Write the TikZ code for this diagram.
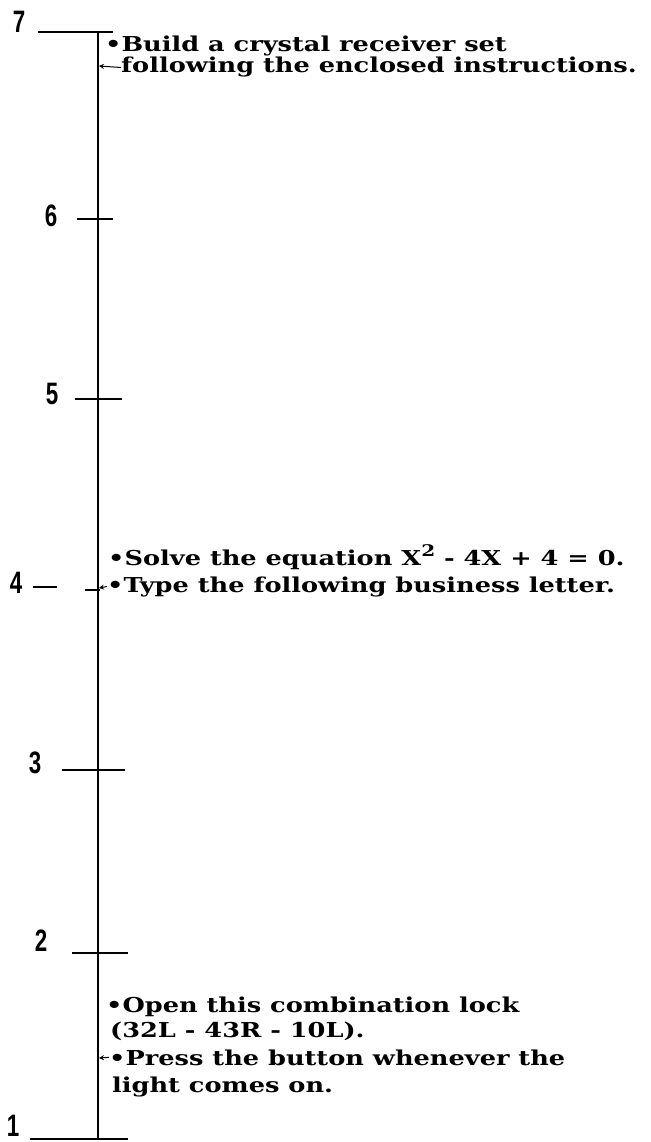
\documentclass[tikz,border=0pt]{standalone}
\usepackage{fontspec}
\setmainfont{DejaVu Serif}
\newfontfamily\numfont{Liberation Sans}[FakeStretch=0.72]
\newfontfamily\taskfont{DejaVu Serif}[FakeStretch=1.25]
\usetikzlibrary{positioning, arrows.meta}

\begin{document}
\begin{tikzpicture}[x=1pt, y=-1pt,
    axisline/.style={line width=1.8pt},
    tickline/.style={line width=1.4pt},
    scalelabel/.style={font=\numfont\bfseries\fontsize{31}{31}\selectfont, anchor=center, inner sep=0pt},
    item/.style={font=\taskfont\bfseries\fontsize{20.5}{26}\selectfont, anchor=base west, inner sep=0pt},
    pointer/.style={-{Stealth[length=5pt, width=5pt]}, line width=1pt}
]
\useasboundingbox (0,0) rectangle (650,1142);

% Vertical scale
\coordinate (top) at (98,32);
\coordinate (bottom) at (98,1139);
\draw[axisline] (top) -- (bottom);

% Ticks and their numbers
\foreach \n/\y/\l/\r/\lx/\ly in {7/32/38/113/19/22, 6/219/77/113/51/216, 5/399/75/122/52/394,
                                  3/770/62/125/35/763, 2/953/72/128/41/941, 1/1139/30/128/13/1126} {
    \draw[tickline] (\l,\y) -- (\r,\y);
    \node[scalelabel] (num\n) at (\lx,\ly) {\n};
}
% Tick 4 is broken
\draw[tickline] (33,587) -- (57,587);
\draw[tickline] (85,590) -- (100,590);
\node[scalelabel] (num4) at (16,583) {4};

% Tasks
\node[item] (build) at (105,52) {•Build a crystal receiver set};
\node[item] (follow) at (121,73) {following the enclosed instructions.};
\node[item] (solve) at (108,565) {•Solve the equation X\raisebox{9pt}{\fontsize{16}{16}\selectfont 2} - 4X + 4 = 0.};
\node[item] (type) at (107,592) {•Type the following business letter.};
\node[item] (open) at (106,1012) {•Open this combination lock};
\node[item] (combo) at (110,1037) {(32L - 43R - 10L).};
\node[item] (press) at (109,1065) {•Press the button whenever the};
\node[item] (light) at (112,1092) {light comes on.};

% Pointers back to the scale
\coordinate (p7) at (99,66);
\coordinate (p4) at (99,588);
\coordinate (p1) at (99,1058);
\draw[pointer] (follow.west) -- (p7);
\draw[pointer] (type.west) -- (p4);
\draw[pointer] (press.west) -- (p1);

\end{tikzpicture}
\end{document}
